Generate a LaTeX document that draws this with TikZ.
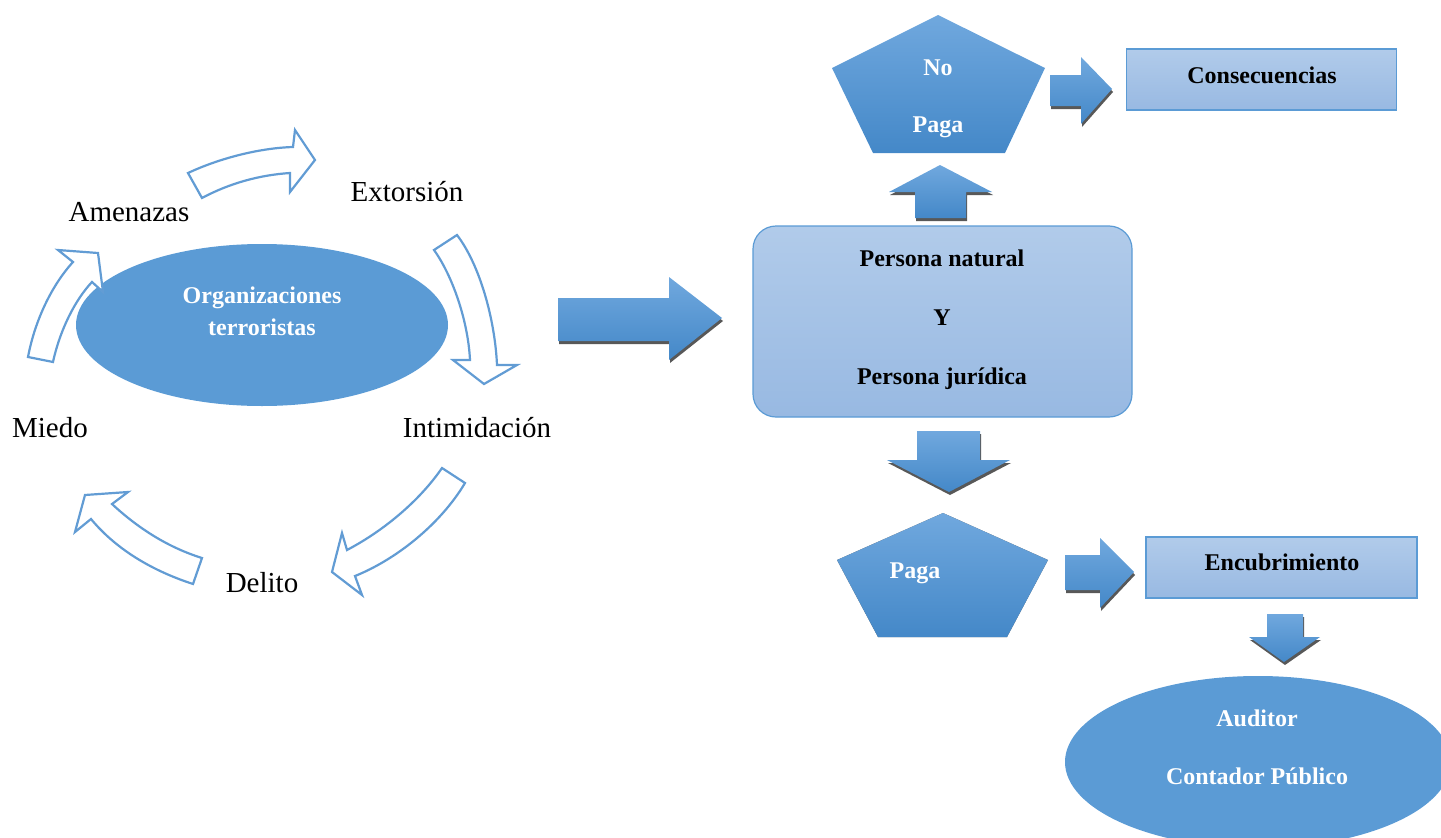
\documentclass[tikz,border=0pt]{standalone}
\usepackage{fontspec}
\setmainfont{Liberation Serif}
\usetikzlibrary{shapes.geometric}

\definecolor{cyc}{RGB}{98,156,212}
\definecolor{fillblue}{RGB}{91,155,213}
\definecolor{gtop}{RGB}{112,168,222}
\definecolor{gbot}{RGB}{68,136,200}
\definecolor{btop}{RGB}{177,203,234}
\definecolor{bbot}{RGB}{152,185,226}
\definecolor{bedge}{RGB}{91,155,213}
\definecolor{shadowgray}{RGB}{88,88,88}

\tikzset{
  cyclearrow/.style={draw=cyc, line width=2.2pt, fill=white, line join=miter},
  blockfill/.style={top color=gtop, bottom color=gbot, draw=none},
  dropshadow/.style={fill=shadowgray, draw=none, shift={(1,3)}},
  lbl/.style={font=\fontsize{29}{34}\selectfont, inner sep=0pt},
  wtxt/.style={font=\fontsize{24}{29}\selectfont\bfseries, text=white, inner sep=0pt},
  btxt/.style={font=\fontsize{24}{29}\selectfont\bfseries, text=black, inner sep=0pt},
  lightbox/.style={rectangle, top color=btop, bottom color=bbot, draw=bedge, line width=1.2pt, inner sep=0pt},
  blob/.style={ellipse, fill=fillblue, draw=none, inner sep=0pt}
}

\begin{document}
\begin{tikzpicture}[x=1pt,y=-1pt]
\useasboundingbox (0,0) rectangle (1441,838);
\clip (0,0) rectangle (1441,838);

% ---------- cycle around the central ellipse ----------
\node[blob, minimum width=372pt, minimum height=162pt] (org) at (262,325) {};
\node[wtxt, align=center, font=\fontsize{24}{32}\selectfont\bfseries] (orgtext) at (262,311)
      {Organizaciones\\terroristas};

\node[lbl] (amen)  at (129,212) {Amenazas};
\node[lbl] (extor) at (407,192) {Extorsión};
\node[lbl] (intim) at (477,428) {Intimidación};
\node[lbl] (delito) at (262,583) {Delito};
\node[lbl] (miedo) at (50,428) {Miedo};

% Amenazas -> Extorsion
\path[cyclearrow] (188,173) -- (202,198)
  .. controls (230,183) and (260,175) .. (290,173)
  -- (290,192) -- (315,160) -- (295,130) -- (293,147)
  .. controls (260,148) and (220,158) .. (188,173) -- cycle;
% Extorsion -> Intimidacion
\path[cyclearrow] (434,250) -- (457,235)
  .. controls (480,265) and (495,320) .. (497,365)
  -- (517,365) -- (484,384) -- (453,360) -- (470,360)
  .. controls (468,320) and (452,275) .. (434,250) -- cycle;
% Intimidacion -> Delito
\path[cyclearrow] (442,468) -- (465,483)
  .. controls (440,525) and (395,560) .. (355,576)
  -- (362,595) -- (332,572) -- (342,533) -- (347,550)
  .. controls (385,530) and (420,500) .. (442,468) -- cycle;
% Delito -> Miedo
\path[cyclearrow] (202,558) -- (193,584)
  .. controls (150,570) and (115,548) .. (91,519)
  -- (75,532) -- (85,495) -- (128,492) -- (112,504)
  .. controls (140,530) and (170,548) .. (202,558) -- cycle;
% Miedo -> Amenazas
\path[cyclearrow] (28,357) -- (53,362)
  .. controls (60,330) and (75,300) .. (92,282)
  -- (103,292) -- (98,253) -- (58,250) -- (73,262)
  .. controls (52,285) and (35,320) .. (28,357) -- cycle;

% ---------- right-hand flow ----------
\node[lightbox, rounded corners=23pt, minimum width=379pt, minimum height=191pt] (persona) at (942.5,321.5) {};
\node[btxt, align=center, font=\fontsize{24}{59}\selectfont\bfseries] (personatext) at (942,320)
      {Persona natural\\Y\\Persona jurídica};

% big arrow from the cycle to the persona box
\fill[dropshadow] (558,298) -- (669,298) -- (669,277) -- (722,318) -- (669,360) -- (669,341) -- (558,341) -- cycle;
\shade[blockfill] (558,298) -- (669,298) -- (669,277) -- (722,318) -- (669,360) -- (669,341) -- (558,341) -- cycle;

% pentagon "No Paga"
\coordinate (np1) at (938,15);
\coordinate (np2) at (1045,68);
\coordinate (np3) at (1005,153);
\coordinate (np4) at (873,153);
\coordinate (np5) at (832,68);
\shade[blockfill] (np1) -- (np2) -- (np3) -- (np4) -- (np5) -- cycle;
\node[wtxt] (no)    at (938,68)  {No};
\node[wtxt] (nopaga) at (938,127) {Paga};

% up arrow
\fill[dropshadow] (915,218) -- (915,192) -- (889,192) -- (940,165) -- (992,192) -- (966,192) -- (966,218) -- cycle;
\shade[blockfill] (915,218) -- (915,192) -- (889,192) -- (940,165) -- (992,192) -- (966,192) -- (966,218) -- cycle;

% right arrow to Consecuencias
\fill[dropshadow] (1050,75) -- (1081,75) -- (1081,57) -- (1112,89) -- (1081,124) -- (1081,106) -- (1050,106) -- cycle;
\shade[blockfill] (1050,75) -- (1081,75) -- (1081,57) -- (1112,89) -- (1081,124) -- (1081,106) -- (1050,106) -- cycle;

\node[lightbox, minimum width=270pt, minimum height=61pt] (conseq) at (1261.5,79.5) {};
\node[btxt] (conseqtext) at (1262,75) {Consecuencias};

% down arrow
\fill[dropshadow] (917,431) -- (980,431) -- (980,460) -- (1010,460) -- (949,492) -- (887,460) -- (917,460) -- cycle;
\shade[blockfill] (917,431) -- (980,431) -- (980,460) -- (1010,460) -- (949,492) -- (887,460) -- (917,460) -- cycle;

% pentagon "Paga"
\coordinate (p1) at (943,513);
\coordinate (p2) at (1048,560);
\coordinate (p3) at (1007,637);
\coordinate (p4) at (878,637);
\coordinate (p5) at (837,560);
\fill[dropshadow] (p1) -- (p2) -- (p3) -- (p4) -- (p5) -- cycle;
\shade[blockfill] (p1) -- (p2) -- (p3) -- (p4) -- (p5) -- cycle;
\node[wtxt] (paga) at (915,573) {Paga};

% right arrow to Encubrimiento
\fill[dropshadow] (1065,555) -- (1100,555) -- (1100,538) -- (1134,572) -- (1100,608) -- (1100,590) -- (1065,590) -- cycle;
\shade[blockfill] (1065,555) -- (1100,555) -- (1100,538) -- (1134,572) -- (1100,608) -- (1100,590) -- (1065,590) -- cycle;

\node[lightbox, minimum width=271pt, minimum height=61pt] (encub) at (1281.5,567.5) {};
\node[btxt] (encubtext) at (1282,562) {Encubrimiento};

% small down arrow
\fill[dropshadow] (1267,614) -- (1303,614) -- (1303,637) -- (1320,637) -- (1284,662) -- (1249,637) -- (1267,637) -- cycle;
\shade[blockfill] (1267,614) -- (1303,614) -- (1303,637) -- (1320,637) -- (1284,662) -- (1249,637) -- (1267,637) -- cycle;

% ellipse Auditor / Contador Publico
\node[blob, minimum width=386pt, minimum height=172pt] (aud) at (1258,762) {};
\node[wtxt] (auditor) at (1257,718) {Auditor};
\node[wtxt] (contador) at (1257,776) {Contador Público};

\end{tikzpicture}
\end{document}
